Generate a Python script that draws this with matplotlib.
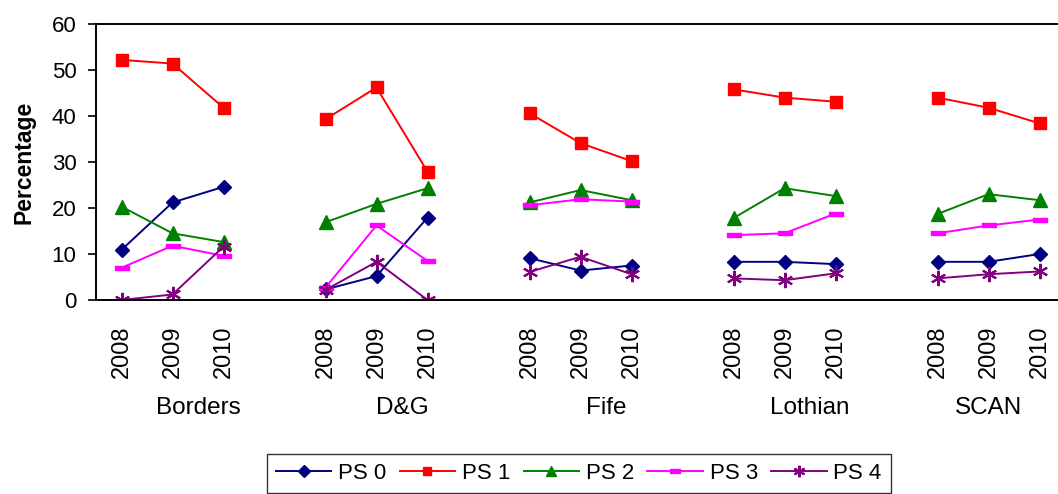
import matplotlib
matplotlib.use("Agg")
import matplotlib.pyplot as plt
from matplotlib.lines import Line2D

plt.rcParams["font.family"] = ["Liberation Sans", "DejaVu Sans"]

# Data
regions = ["Borders", "D&G", "Fife", "Lothian", "SCAN"]
years = ["2008", "2009", "2010"]
series_names = ["PS 0", "PS 1", "PS 2", "PS 3", "PS 4"]

ps0 = [[10.9, 21.2, 24.6], [2.3, 5.2, 17.9], [9.1, 6.4, 7.5], [8.3, 8.3, 7.8], [8.3, 8.3, 10.0]]
ps1 = [[52.2, 51.4, 41.8], [39.3, 46.2, 27.9], [40.6, 34.1, 30.2], [45.8, 44.0, 43.1], [44.0, 41.8, 38.4]]
ps2 = [[20.3, 14.5, 12.6], [16.9, 20.9, 24.3], [21.2, 23.9, 21.7], [17.8, 24.3, 22.6], [18.7, 23.0, 21.7]]
ps3 = [[7.0, 11.8, 9.6], [2.7, 16.2, 8.5], [20.6, 21.9, 21.4], [14.1, 14.5, 18.8], [14.5, 16.2, 17.5]]
ps4 = [[0.0, 1.2, 11.6], [2.2, 8.3, 0.0], [6.1, 9.4, 5.6], [4.7, 4.3, 5.8], [4.7, 5.6, 6.2]]

all_series = [ps0, ps1, ps2, ps3, ps4]

# Excel-like markers
dash = [(-1, -0.3), (1, -0.3), (1, 0.3), (-1, 0.3), (-1, -0.3)]
styles = [
    dict(color="#000080", marker="D", markersize=7.5),
    dict(color="#FF0000", marker="s", markersize=8.5),
    dict(color="#008000", marker="^", markersize=9.5),
    dict(color="#FF00FF", marker=dash, markersize=10),
    dict(color="#800080", marker=(6, 2, 0), markersize=11, markeredgewidth=1.5),
]

fig = plt.figure(figsize=(10.58, 4.94), dpi=100)
ax = fig.add_axes([96 / 1058, 194 / 494, 969 / 1058, 276 / 494])

# 3 years per region, one blank category after each region except the last
slot = 4
for s, st in zip(all_series, styles):
    for g, vals in enumerate(s):
        xs = [g * slot + i for i in range(len(years))]
        ax.plot(xs, vals, linewidth=1.4, markeredgecolor=st["color"], **st)

ax.set_xlim(-0.5, (len(regions) - 1) * slot + 2.5)
ax.set_ylim(0, 60)
ax.set_yticks(range(0, 61, 10))
ax.tick_params(axis="y", labelsize=16, length=6, width=1.2, direction="out", pad=8)

xt = [g * slot + i for g in range(len(regions)) for i in range(len(years))]
ax.set_xticks(xt)
ax.set_xticklabels(years * len(regions), rotation=90, fontsize=17)
ax.tick_params(axis="x", length=0, pad=18)

# group label centred over its span of categories (blank one included)
for g, name in enumerate(regions):
    last = g * slot + (2 if g == len(regions) - 1 else 3)
    ax.text((g * slot + last) / 2, -0.393, name, transform=ax.get_xaxis_transform(),
            ha="center", va="center", fontsize=17.5)

ax.set_ylabel("Percentage", fontsize=16.5, fontweight="bold")
ax.yaxis.set_label_coords(-0.062, 0.5)

for sp in ax.spines.values():
    sp.set_linewidth(1.4)
ax.spines["right"].set_visible(False)

handles = [Line2D([], [], linewidth=1.4, markeredgecolor=st["color"], **st) for st in styles]
leg = fig.legend(handles, series_names, loc="upper left", bbox_to_anchor=(267 / 1058, 1 - 454 / 494),
                 ncol=5, fontsize=16, frameon=True, fancybox=False, edgecolor="black",
                 markerscale=0.75, handlelength=2.5, handletextpad=0.3, columnspacing=0.6,
                 borderpad=0.4, borderaxespad=0)
leg.get_frame().set_linewidth(1.0)

fig.savefig("out.png", dpi=100)
